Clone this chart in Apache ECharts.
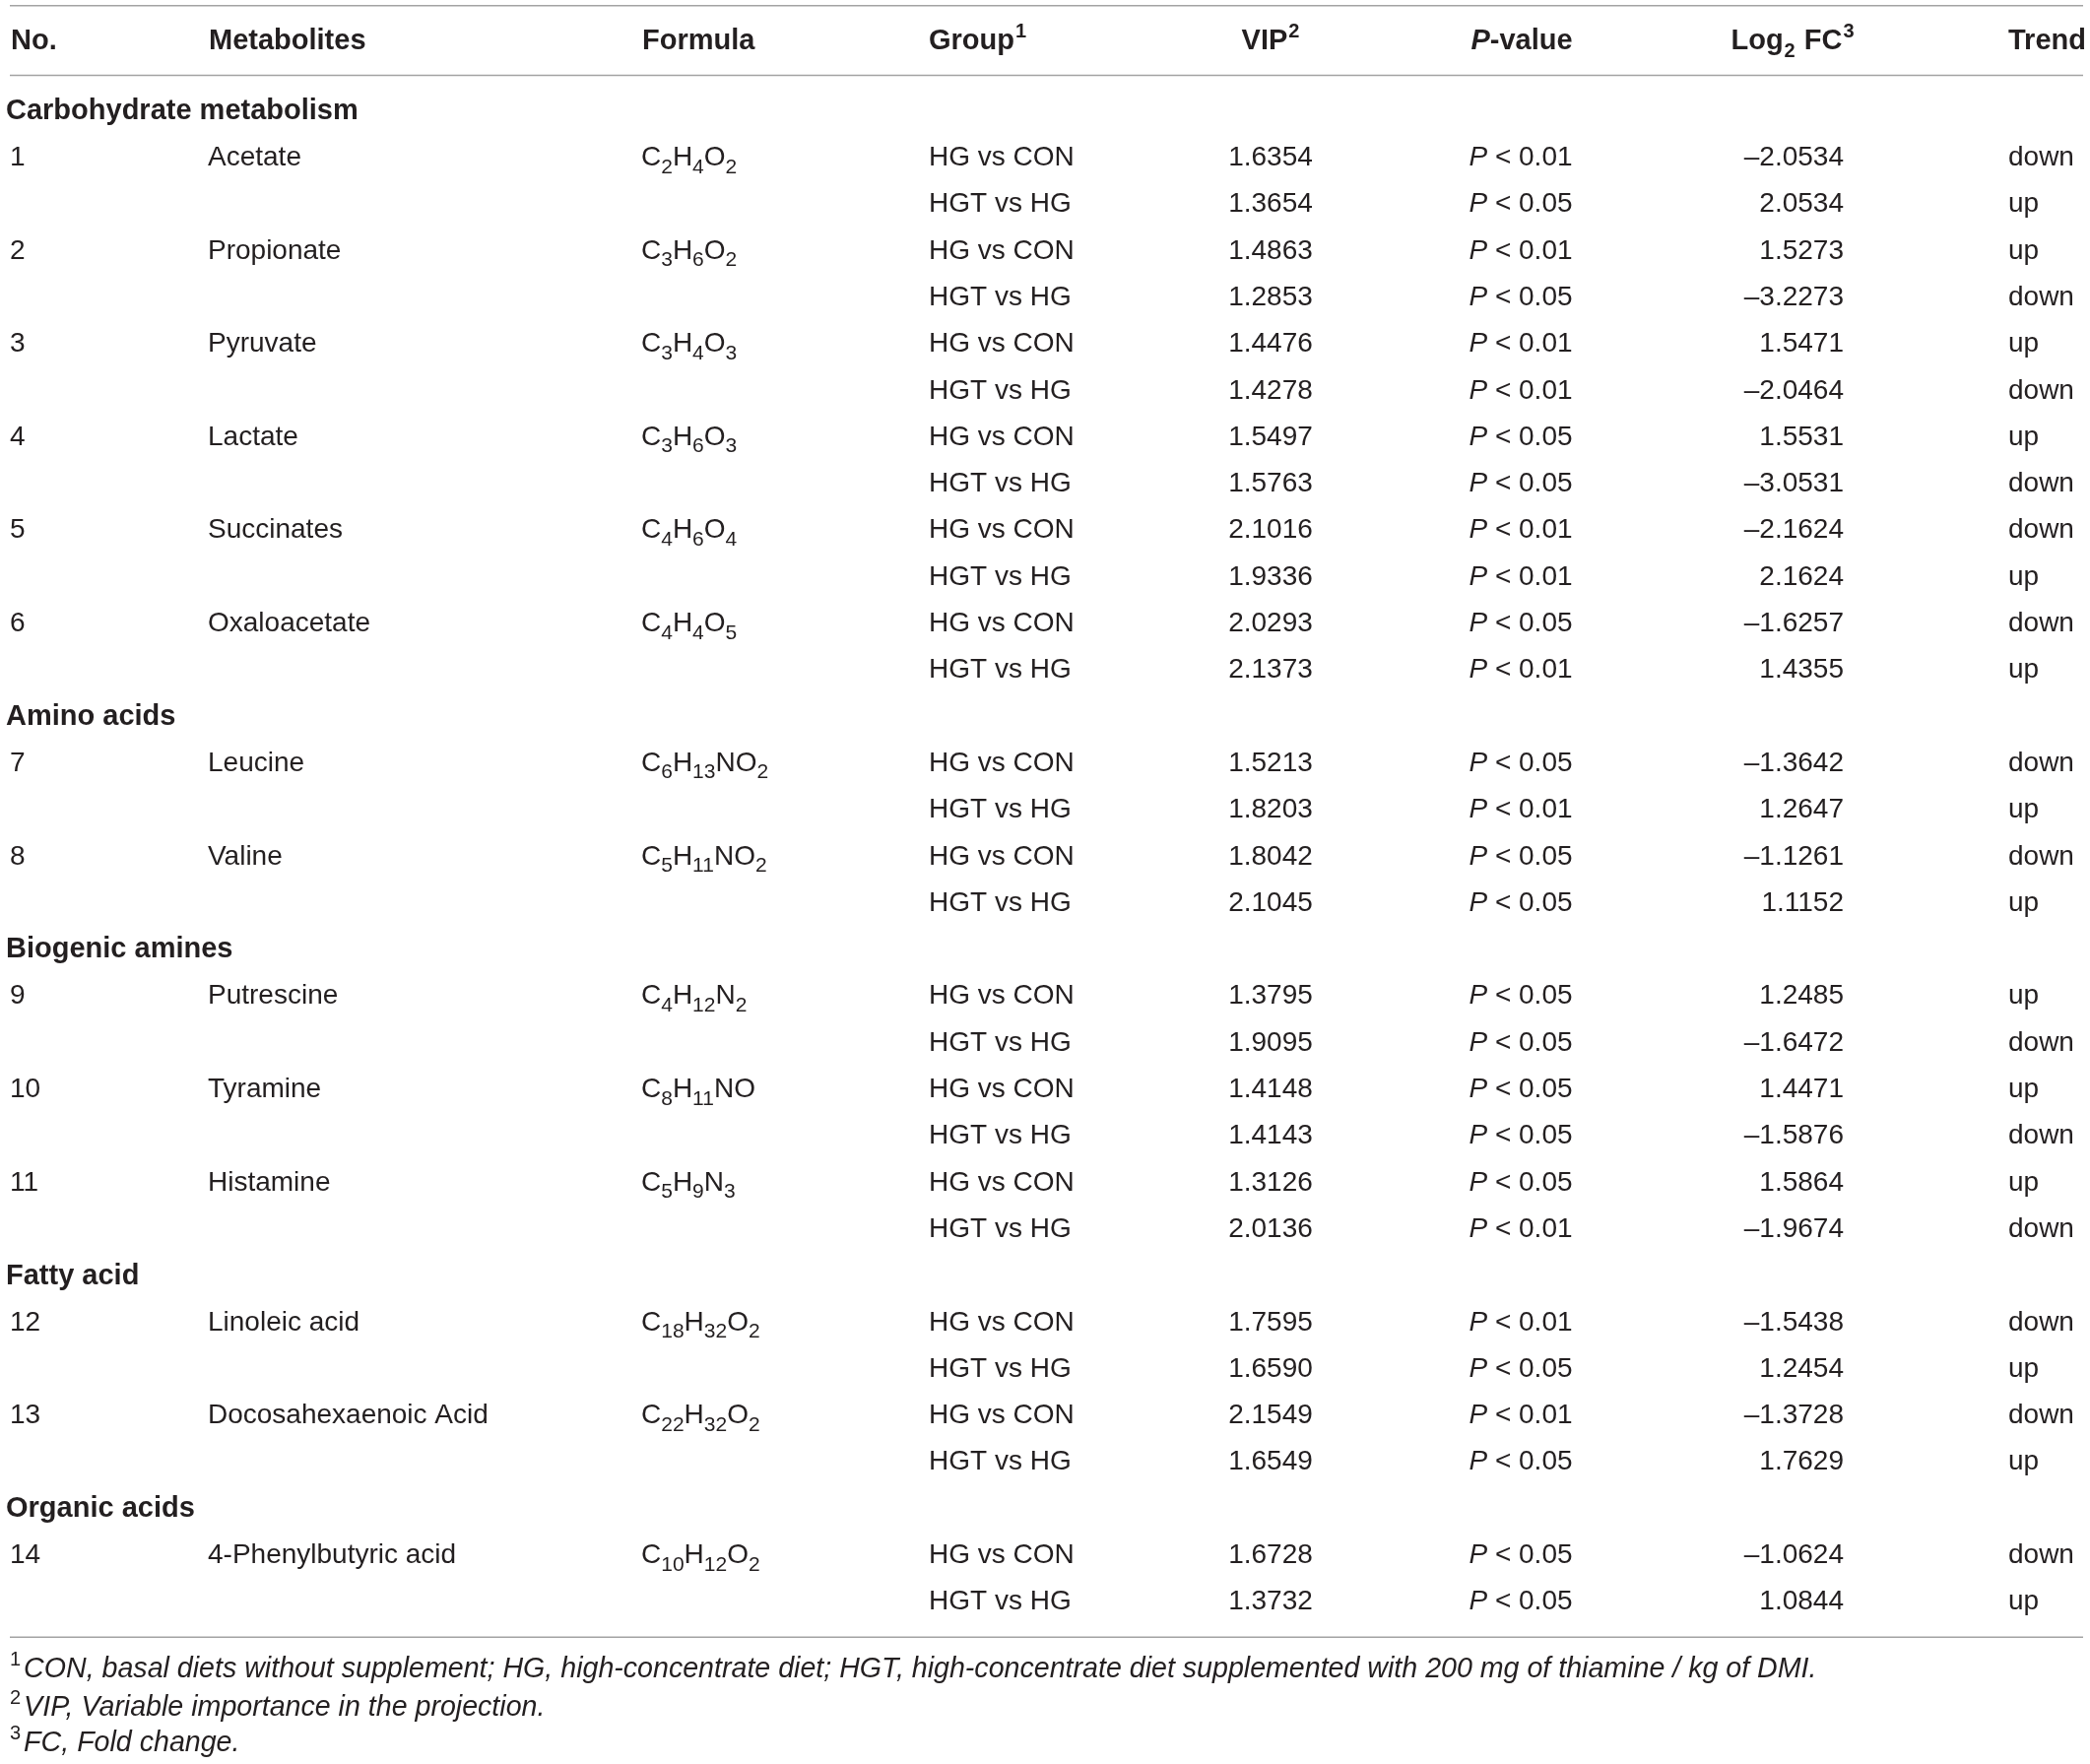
<!DOCTYPE html>
<html>
<head>
<meta charset="utf-8">
<script src="https://cdn.jsdelivr.net/npm/echarts@6/dist/echarts.min.js"></script>
<style>
html,body{margin:0;padding:0;background:#ffffff;}
#chart{width:2122px;height:1791px;}
</style>
</head>
<body>
<div id="chart"></div>
<script>
// ---------------- DATA ----------------
const sectionNames = ['Carbohydrate metabolism', 'Amino acids', 'Biogenic amines', 'Fatty acid', 'Organic acids'];
const sectionCounts = [6, 2, 3, 2, 1];
const metaboliteNames = ['Acetate', 'Propionate', 'Pyruvate', 'Lactate', 'Succinates', 'Oxaloacetate',
  'Leucine', 'Valine', 'Putrescine', 'Tyramine', 'Histamine', 'Linoleic acid', 'Docosahexaenoic Acid', '4-Phenylbutyric acid'];
const formulas = ['C2H4O2', 'C3H6O2', 'C3H4O3', 'C3H6O3', 'C4H6O4', 'C4H4O5',
  'C6H13NO2', 'C5H11NO2', 'C4H12N2', 'C8H11NO', 'C5H9N3', 'C18H32O2', 'C22H32O2', 'C10H12O2'];
const groupLabels = ['HG vs CON', 'HGT vs HG'];
const vipHGvsCON = [1.6354, 1.4863, 1.4476, 1.5497, 2.1016, 2.0293, 1.5213, 1.8042, 1.3795, 1.4148, 1.3126, 1.7595, 2.1549, 1.6728];
const vipHGTvsHG = [1.3654, 1.2853, 1.4278, 1.5763, 1.9336, 2.1373, 1.8203, 2.1045, 1.9095, 1.4143, 2.0136, 1.6590, 1.6549, 1.3732];
const pHGvsCON = ['0.01', '0.01', '0.01', '0.05', '0.01', '0.05', '0.05', '0.05', '0.05', '0.05', '0.05', '0.01', '0.01', '0.05'];
const pHGTvsHG = ['0.05', '0.05', '0.01', '0.05', '0.01', '0.01', '0.01', '0.05', '0.05', '0.05', '0.01', '0.05', '0.05', '0.05'];
const fcHGvsCON = [-2.0534, 1.5273, 1.5471, 1.5531, -2.1624, -1.6257, -1.3642, -1.1261, 1.2485, 1.4471, 1.5864, -1.5438, -1.3728, -1.0624];
const fcHGTvsHG = [2.0534, -3.2273, -2.0464, -3.0531, 2.1624, 1.4355, 1.2647, 1.1152, -1.6472, -1.5876, -1.9674, 1.2454, 1.7629, 1.0844];
const trendHGvsCON = ['down', 'up', 'up', 'up', 'down', 'down', 'down', 'down', 'up', 'up', 'up', 'down', 'down', 'down'];
const trendHGTvsHG = ['up', 'down', 'down', 'down', 'up', 'up', 'up', 'up', 'down', 'down', 'down', 'up', 'up', 'up'];
const headerLabels = ['No.', 'Metabolites', 'Formula', 'Group{hsup|1}', 'VIP{hsup|2}', '{hbi|P}{h|-value}', 'Log{hsub|2}{h| FC}{hsup|3}', 'Trend'];
const footnoteMarks = ['1', '2', '3'];
const footnoteTexts = [
  'CON, basal diets without supplement; HG, high-concentrate diet; HGT, high-concentrate diet supplemented with 200 mg of thiamine / kg of DMI.',
  'VIP, Variable importance in the projection.',
  'FC, Fold change.'
];

// ---------------- LAYOUT (styling only) ----------------
const W = 2122, H = 1791;
const ROW0 = 113, STEP = 47.3;               // pixel centre of first body row, row pitch
const toRow = px => (px - ROW0) / STEP;      // pixel -> row units (for fixed chrome)
const HEADER_ROW = toRow(42);
const RULE_ROWS = [toRow(5.7), toRow(76.5), toRow(1662.3)];
const FOOT_ROWS = [toRow(1695.5), toRow(1734.5), toRow(1770)];
const RULE_X = [10, 2115];
const COLS = {
  no: 10, name: 211, formula: 651, group: 943, vip: 1290, p: 1544, fc: 1872, fcHead: 1820, trend: 2039
};
const TEXT = '#231f20';
const FONT = 'Liberation Sans';

function st(o) { return Object.assign({ fontFamily: FONT, fontSize: 28, fill: TEXT, lineHeight: 40 }, o); }
const RICH = {
  n: st({}),
  s: st({ fontSize: 21, lineHeight: 24, verticalAlign: 'bottom' }),
  i: st({ fontStyle: 'italic' }),
  h: st({ fontSize: 29, fontWeight: 'bold' }),
  hbi: st({ fontSize: 29, fontWeight: 'bold', fontStyle: 'italic' }),
  hsup: st({ fontSize: 20, fontWeight: 'bold', lineHeight: 31, verticalAlign: 'top', padding: [0, 0, 0, 1] }),
  hsub: st({ fontSize: 20, fontWeight: 'bold', lineHeight: 23, verticalAlign: 'bottom', padding: [0, 1, 0, 1] }),
  fi: st({ fontSize: 28.6, fontStyle: 'italic' }),
  fsup: st({ fontSize: 20, lineHeight: 22, verticalAlign: 'top', padding: [0, 3, 0, 0] })
};

// ---------------- ROW MODEL ----------------
const rows = [];
let mIdx = 0;
sectionNames.forEach((s, si) => {
  rows.push({ kind: 'section', text: s });
  for (let k = 0; k < sectionCounts[si]; k++, mIdx++) {
    rows.push({ kind: 'data', m: mIdx, g: 0 });
    rows.push({ kind: 'data', m: mIdx, g: 1 });
  }
});

function formulaRich(f) {
  return f.match(/[A-Za-z]+|\d+/g).map(t => /\d/.test(t) ? '{s|' + t + '}' : '{n|' + t + '}').join('');
}
function fmtFC(v) { return (v < 0 ? '\u2013' : '') + Math.abs(v).toFixed(4); }
function wrapHeader(s) {
  return s.replace(/(^|\})([^{}]+)(?=\{|$)/g, (m0, a, b) => a + '{h|' + b + '}');
}

function textEl(x, y, text, align) {
  return {
    type: 'text', x: x, y: y, silent: true,
    style: { text: text, align: align, verticalAlign: 'middle', rich: RICH,
      fontFamily: FONT, fontSize: 28, fill: TEXT, lineHeight: 40 }
  };
}

function renderRow(params, api) {
  const r = api.value(1);
  const row = rows[params.dataIndex];
  const y = api.coord([0, r])[1];
  const X = c => api.coord([c, r])[0];
  const ch = [];
  if (row.kind === 'section') {
    ch.push(textEl(X(6), y, '{h|' + row.text + '}', 'left'));
  } else {
    const m = row.m, g = row.g;
    if (g === 0) {
      ch.push(textEl(X(COLS.no), y, '{n|' + (m + 1) + '}', 'left'));
      ch.push(textEl(X(COLS.name), y, '{n|' + metaboliteNames[m] + '}', 'left'));
      ch.push(textEl(X(COLS.formula), y, formulaRich(formulas[m]), 'left'));
    }
    const vip = g === 0 ? vipHGvsCON[m] : vipHGTvsHG[m];
    const p = g === 0 ? pHGvsCON[m] : pHGTvsHG[m];
    const fc = g === 0 ? fcHGvsCON[m] : fcHGTvsHG[m];
    const tr = g === 0 ? trendHGvsCON[m] : trendHGTvsHG[m];
    ch.push(textEl(X(COLS.group), y, '{n|' + groupLabels[g] + '}', 'left'));
    ch.push(textEl(X(COLS.vip), y, '{n|' + vip.toFixed(4) + '}', 'center'));
    ch.push(textEl(X(COLS.p), y, '{i|P}{n| < ' + p + '}', 'center'));
    ch.push(textEl(X(COLS.fc), y, '{n|' + fmtFC(fc) + '}', 'right'));
    ch.push(textEl(X(COLS.trend), y, '{n|' + tr + '}', 'left'));
  }
  return { type: 'group', children: ch };
}

function renderHeader(params, api) {
  const r = api.value(1);
  const y = api.coord([0, r])[1];
  const X = c => api.coord([c, r])[0];
  const anchors = [[11, 'left'], [212, 'left'], [652, 'left'], [943, 'left'],
    [COLS.vip, 'center'], [1545, 'center'], [COLS.fcHead, 'center'], [2039, 'left']];
  const ch = headerLabels.map((lab, k) => textEl(X(anchors[k][0]), y, wrapHeader(lab), anchors[k][1]));
  return { type: 'group', children: ch };
}

function renderRule(params, api) {
  const r = api.value(1);
  const a = api.coord([RULE_X[0], r]);
  const b = api.coord([RULE_X[1], r]);
  return { type: 'line', silent: true, shape: { x1: a[0], y1: a[1], x2: b[0], y2: b[1] },
    style: { stroke: '#a3a3a3', lineWidth: 1.6 } };
}

function renderFoot(params, api) {
  const r = api.value(1);
  const k = params.dataIndex;
  const p = api.coord([10, r]);
  return textEl(p[0], p[1], '{fsup|' + footnoteMarks[k] + '}{fi|' + footnoteTexts[k] + '}', 'left');
}

const chart = echarts.init(document.getElementById('chart'), null, { renderer: 'canvas', width: W, height: H });
chart.setOption({
  backgroundColor: '#ffffff',
  animation: false,
  grid: { left: 0, right: 0, top: 0, bottom: 0, containLabel: false },
  xAxis: { type: 'value', min: 0, max: W, show: false },
  yAxis: { type: 'value', inverse: true, min: toRow(0), max: toRow(H), show: false },
  series: [
    { type: 'custom', name: 'rules', clip: false, silent: true, renderItem: renderRule,
      data: RULE_ROWS.map(v => [0, v]) },
    { type: 'custom', name: 'header', clip: false, silent: true, renderItem: renderHeader,
      data: [[0, HEADER_ROW]] },
    { type: 'custom', name: 'body', clip: false, silent: true, renderItem: renderRow,
      data: rows.map((r, i) => [0, i]) },
    { type: 'custom', name: 'footnotes', clip: false, silent: true, renderItem: renderFoot,
      data: FOOT_ROWS.map(v => [0, v]) }
  ]
});
</script>
</body>
</html>
